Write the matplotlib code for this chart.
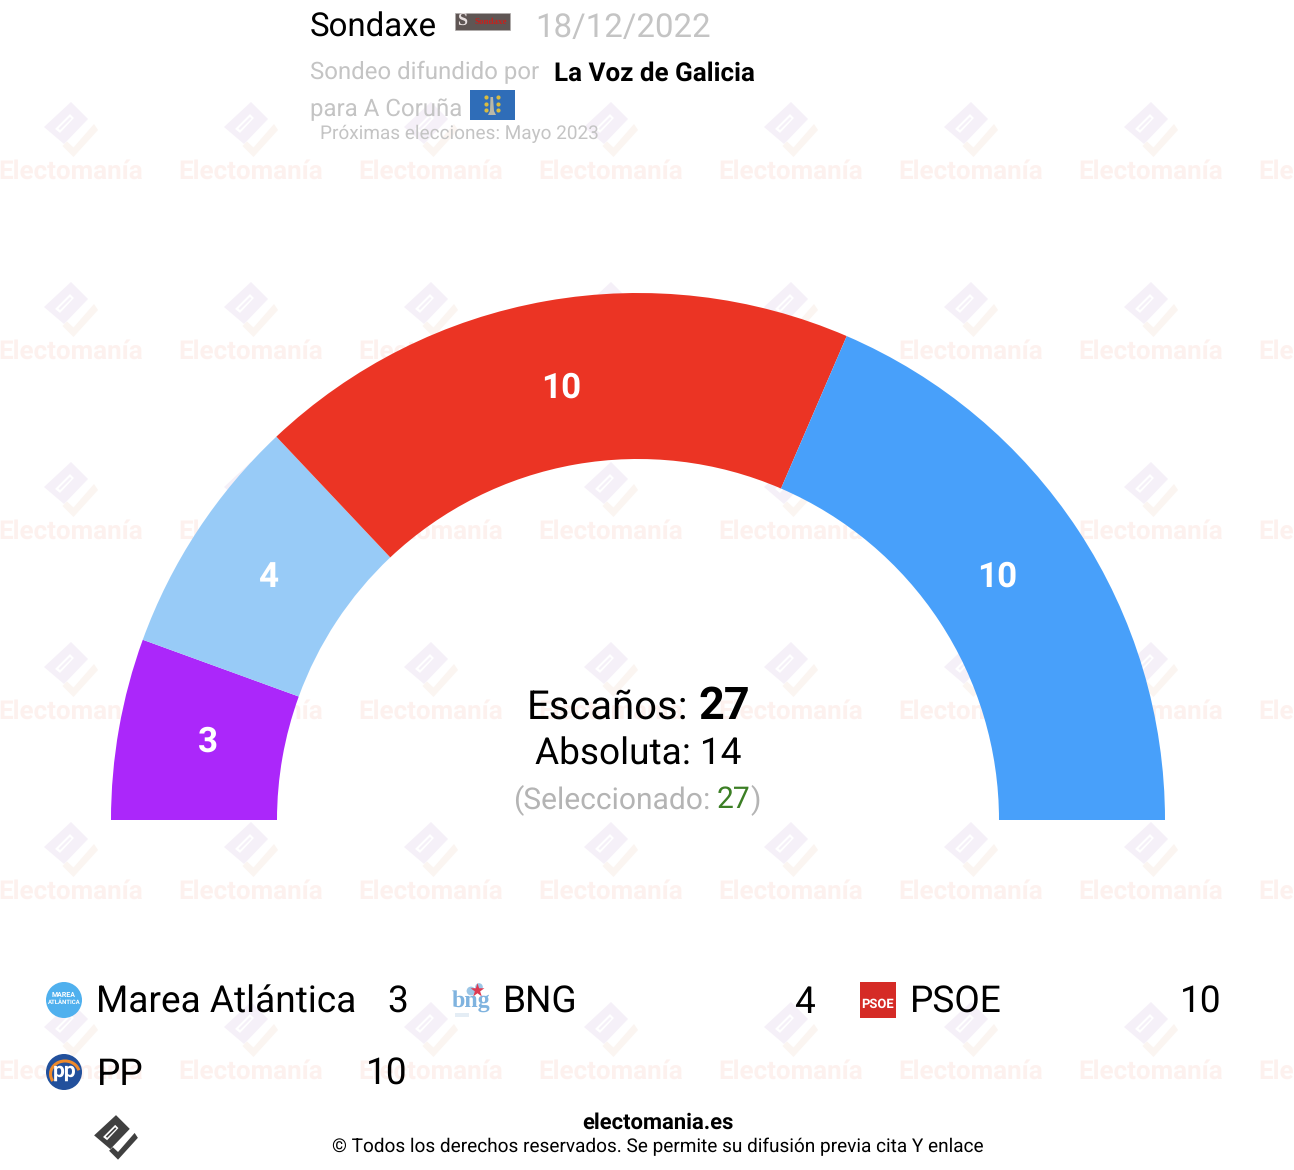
import matplotlib
matplotlib.use('Agg')
import matplotlib.pyplot as plt
from matplotlib.patches import Circle, Rectangle, Polygon, Arc, PathPatch
from matplotlib.path import Path
import numpy as np

plt.rcParams['font.family'] = ['Roboto', 'DejaVu Sans']
plt.rcParams['text.hinting'] = 'no_hinting'
plt.rcParams['text.hinting_factor'] = 1

parties = ['Marea Atlántica', 'BNG', 'PSOE', 'PP']
seats = [3, 4, 10, 10]
colors = ['#AB27FA', '#98CBF7', '#EB3424', '#48A0FA']
total_seats = 27
absolute = 14
selected = 27

W, H = 1294, 1170
fig = plt.figure(figsize=(W / 100, H / 100), dpi=100, facecolor='white')

# capa en pixeles para todo lo que no es el semicirculo
bg = fig.add_axes([0, 0, 1, 1])
bg.set_xlim(0, W)
bg.set_ylim(H, 0)
bg.axis('off')


def pts(px):
    return px * 72 / 100


def put(x, y, s, size, color='black', weight='normal', ha='left', ax=bg, z=5):
    return ax.text(x, y, s, fontsize=pts(size), color=color, fontweight=weight,
                   ha=ha, va='baseline', zorder=z)


def logo(cx, cy, scale, col1, col2, z=1):
    # diamante con ranura, linea interior y la L de abajo
    outer = np.array([(0, -27), (17, -10), (-7, 15), (-27, -2)], float)
    slit = np.array([(-1, -15), (3, -11), (-11, 4), (-16, 0)], float)
    verts = np.vstack([outer, outer[:1], slit[::-1], slit[-1:]]) * scale + (cx, cy)
    codes = [Path.MOVETO] + [Path.LINETO] * (len(outer) - 1) + [Path.CLOSEPOLY]
    codes += [Path.MOVETO] + [Path.LINETO] * (len(slit) - 1) + [Path.CLOSEPOLY]
    bg.add_patch(PathPatch(Path(verts, codes), fc=col1, ec='none', zorder=z))
    inner = np.array([(-1, -12), (0.5, -10.5), (-11, 1), (-12.5, -0.5)], float)
    bg.add_patch(Polygon(inner * scale + (cx, cy), closed=True, fc=col1, ec='none', zorder=z))
    ell = np.array([(23, -5), (27, 1), (2.5, 28), (-8.5, 17), (-4, 12.5), (2.5, 18.5)], float)
    bg.add_patch(Polygon(ell * scale + (cx, cy), closed=True, fc=col2, ec='none', zorder=z))


# marca de agua
for row in range(6):
    for col in range(8):
        x0 = 71 + 180 * col
        y0 = 129 + 180 * row
        logo(x0, y0, 1, '#F5F0F8', '#FBF5F1')
        put(x0, y0 + 50, 'Electomanía', 26, color='#FDF1EE', weight='bold', ha='center', z=1)

# semicirculo: la mitad de abajo del pie queda oculta
ax = fig.add_axes([111 / W, 1 - 820 / H, 1054 / W, 527 / H])
ax.patch.set_alpha(0)
wedges, _ = ax.pie(seats + [sum(seats)], colors=colors + ['none'], startangle=180,
                   counterclock=False, radius=1, wedgeprops={'width': 166 / 527, 'linewidth': 0})
ax.set_xlim(-1, 1)
ax.set_ylim(0, 1)
ax.set_aspect('equal')
label_dx = [7, 1, 0, -12]
label_dy = [1, -1, -5, -1]
for w, n, dx, dy in zip(wedges, seats, label_dx, label_dy):
    ang = np.deg2rad((w.theta1 + w.theta2) / 2)
    ax.annotate(str(n), (0.8425 * np.cos(ang), 0.8425 * np.sin(ang)), xytext=(dx, dy),
                textcoords='offset pixels', fontsize=pts(35), color='white',
                fontweight='bold', ha='center', va='center')

# cabecera
put(310, 36.5, 'Sondaxe', 33.2)
bg.add_patch(Rectangle((455, 13), 55, 17, fc='#5F5654', ec='#B0ACAB', lw=0.5, zorder=4))
bg.text(462, 21.5, 'S', fontsize=pts(18), color='#E8E0E0', family='Liberation Serif', fontweight='bold',
        ha='center', va='center', zorder=5)
bg.text(490.5, 22, 'Sondaxe', fontsize=pts(9.5), color='#C8201C', family='Liberation Serif', fontweight='bold',
        ha='center', va='center', zorder=5)
put(535, 36.5, '18/12/2022', 33.2, color='#C4C4C4')
put(310, 79, 'Sondeo difundido por', 24.4, color='#C4C4C4')
put(554, 81, 'La Voz de Galicia', 25.9, weight='bold')
put(310, 116, 'para A Coruña', 24.4, color='#C4C4C4')
bg.add_patch(Rectangle((469.5, 90), 45, 30, fc='#2F6DB8', ec='none', zorder=4))
bg.add_patch(Polygon([(490.5, 97), (493, 97), (494, 111), (496, 115), (488, 115), (490, 111)],
                     closed=True, fc='#B9B8A8', ec='none', zorder=5))
star_x = [486, 486, 486, 498, 498, 498]
star_y = [97, 104, 110, 97, 104, 110]
bg.scatter(star_x, star_y, s=9, color='#D9BC40', zorder=5, linewidths=0)
put(320, 139, 'Próximas elecciones: Mayo 2023', 18.55, color='#C4C4C4')

# centro
put(526.5, 719, 'Escaños:', 40)
put(698, 719, str(total_seats), 45, weight='bold')
put(638, 765, 'Absoluta: ' + str(absolute), 36.9, ha='center')
put(513.5, 808, '(Seleccionado:', 29.55, color='#B4B4B4')
put(717, 808, str(selected), 30, color='#3C7F25')
put(750, 808, ')', 30, color='#B4B4B4')

# leyenda
name_x = [96.5, 503, 910, 96.5]
value_x = [407.6, 814.6, 1221.6, 407.6]
base_y = [1013, 1013, 1013, 1085]
for name, n, nx, vx, by in zip(parties, seats, name_x, value_x, base_y):
    put(nx, by, name, 36.6)
    put(vx, by, str(n), 36.6, ha='right')

# iconos de los partidos
bg.add_patch(Circle((64, 1000), 18, fc='#4FB0EE', ec='none', zorder=4))
bg.text(64, 995, 'MAREA', fontsize=pts(7.5), color='white', fontweight='bold', ha='center', va='center', zorder=5)
bg.text(64, 1002.5, 'ATLÁNTICA', fontsize=pts(6.5), color='white', fontweight='bold', ha='center', va='center', zorder=5)

bg.text(471, 1001, 'bng', fontsize=pts(24), color='#7FB3DF', fontweight='bold', ha='center', va='center', zorder=5,
        family='Liberation Serif')
bg.scatter([471, 479], [991, 987], s=[40, 30], color='#9CC6E6', zorder=5, linewidths=0)
bg.scatter([477], [990], s=110, marker='*', color='#DE3A52', zorder=6, linewidths=0)
bg.add_patch(Rectangle((455, 1013), 14, 4, fc='#E4EDF5', ec='none', zorder=5))

bg.add_patch(Rectangle((860, 982), 36, 36, fc='#D52B26', ec='none', zorder=4))
bg.text(878, 1004, 'PSOE', fontsize=pts(13), color='white', fontweight='bold', ha='center', va='center', zorder=5)

bg.add_patch(Circle((64, 1072), 18, fc='#22509C', ec='none', zorder=4))
bg.add_patch(Arc((65, 1074), 29, 26, theta1=150, theta2=345, ec='#EE8A2B', lw=2.2, zorder=5))
bg.text(65, 1071, 'pp', fontsize=pts(21), color='white', fontweight='bold', ha='center', va='center', zorder=6)

# pie
logo(116, 1137, 0.81, '#404040', '#404040', z=5)
put(657.5, 1128.5, 'electomania.es', 22.5, weight='bold', ha='center')
put(658, 1152, '© Todos los derechos reservados. Se permite su difusión previa cita Y enlace', 18.8, ha='center')

fig.savefig('out.png', dpi=100)
